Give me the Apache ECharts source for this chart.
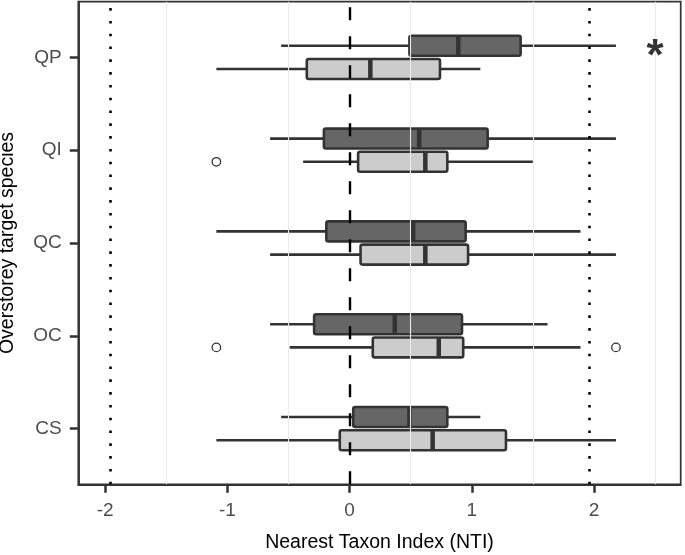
<!DOCTYPE html>
<html>
<head>
<meta charset="utf-8">
<script src="https://cdn.jsdelivr.net/npm/echarts@6/dist/echarts.min.js"></script>
<style>
    html, body { margin: 0; padding: 0; background: #fff; }
    #chart { width: 685px; height: 555px; }
</style>
</head>
<body>
<div id="chart"></div>
<script>
    // categories from bottom to top
    var categories = ['CS', 'OC', 'QC', 'QI', 'QP'];
    // [lower whisker, Q1, median, Q3, upper whisker] per category
    var darkStats = [
        [-0.56, 0.03, 0.49, 0.80, 1.07],
        [-0.65, -0.29, 0.37, 0.92, 1.62],
        [-1.09, -0.19, 0.52, 0.95, 1.89],
        [-0.65, -0.21, 0.57, 1.13, 2.18],
        [-0.56, 0.49, 0.89, 1.40, 2.18]
    ];
    var lightStats = [
        [-1.09, -0.08, 0.68, 1.28, 2.18],
        [-0.49, 0.19, 0.73, 0.93, 1.89],
        [-0.65, 0.09, 0.62, 0.97, 2.18],
        [-0.38, 0.07, 0.62, 0.80, 1.50],
        [-1.09, -0.35, 0.17, 0.74, 1.07]
    ];
    // [category index, NTI]
    var lightOutliers = [[3, -1.09], [1, -1.09], [1, 2.18]];
    var xTicks = [-2, -1, 0, 1, 2];
    var gridBreaks = [-1.5, -0.5, 0.5, 1.5, 2.5];
    var sesLimits = [-1.96, 1.96];
    var starMark = [[2.5, 4]];

    var DODGE = 0.125;
    var BOX_H = 0.215;

    function boxRenderer(shift, fill) {
        return function (params, api) {
            var yv = api.value(0) + shift;
            var h = api.size([0, BOX_H])[1];
            var lo = api.coord([api.value(1), yv]);
            var q1 = api.coord([api.value(2), yv]);
            var md = api.coord([api.value(3), yv]);
            var q3 = api.coord([api.value(4), yv]);
            var hi = api.coord([api.value(5), yv]);
            var line = { stroke: '#333333', lineWidth: 2.6 };
            return {
                type: 'group',
                children: [
                    { type: 'line', shape: { x1: lo[0], y1: lo[1], x2: q1[0], y2: q1[1] }, style: line },
                    { type: 'line', shape: { x1: q3[0], y1: q3[1], x2: hi[0], y2: hi[1] }, style: line },
                    {
                        type: 'rect',
                        shape: { x: q1[0], y: q1[1] - h / 2, width: q3[0] - q1[0], height: h, r: 2 },
                        style: { fill: fill, stroke: '#333333', lineWidth: 2.6 }
                    },
                    {
                        type: 'line',
                        shape: { x1: md[0], y1: md[1] - h / 2, x2: md[0], y2: md[1] + h / 2 },
                        style: { stroke: '#333333', lineWidth: 4.5 }
                    }
                ]
            };
        };
    }

    function withPos(stats) {
        return stats.map(function (s, i) { return [i + 1].concat(s); });
    }

    var chart = echarts.init(document.getElementById('chart'), null, { renderer: 'canvas' });

    var textFont = '"Liberation Sans", Arial, sans-serif';

    chart.setOption({
        animation: false,
        backgroundColor: '#ffffff',
        textStyle: { fontFamily: textFont },
        grid: {
            left: 78.3, right: 4.3, top: 1.7, bottom: 70.7,
            show: true, borderColor: '#333333', borderWidth: 1.7,
            containLabel: false, outerBoundsMode: 'none'
        },
        xAxis: {
            type: 'value',
            min: -2.22,
            max: 2.71,
            name: 'Nearest Taxon Index (NTI)',
            nameLocation: 'middle',
            nameGap: 48,
            nameTextStyle: { color: '#000000', fontSize: 19.5, fontFamily: textFont },
            axisLine: { show: true, onZero: false, lineStyle: { color: '#333333', width: 1.9 } },
            axisTick: { show: true, inside: false, length: 8.5, customValues: xTicks, lineStyle: { color: '#333333', width: 2.5 } },
            axisLabel: {
                customValues: xTicks,
                margin: 17,
                color: '#4d4d4d',
                fontSize: 19,
                fontFamily: textFont,
                formatter: function (v) { return String(v); }
            },
            splitLine: { show: false }
        },
        yAxis: {
            type: 'value',
            min: 0.4,
            max: 5.6,
            name: 'Overstorey target species',
            nameLocation: 'middle',
            nameGap: 61,
            nameTextStyle: { color: '#000000', fontSize: 19.5, fontFamily: textFont },
            axisLine: { show: true, onZero: false, lineStyle: { color: '#333333', width: 1.9 } },
            axisTick: { show: true, inside: false, length: 8.5, customValues: [1, 2, 3, 4, 5], lineStyle: { color: '#333333', width: 2.5 } },
            axisLabel: {
                customValues: [1, 2, 3, 4, 5],
                margin: 16.6,
                color: '#4d4d4d',
                fontSize: 19,
                fontFamily: textFont,
                formatter: function (v) { return categories[Math.round(v) - 1]; }
            },
            splitLine: { show: false }
        },
        series: [
            {
                // light grid lines and reference lines
                type: 'line',
                data: [],
                silent: true,
                z: 1,
                markLine: {
                    silent: true,
                    symbol: ['none', 'none'],
                    label: { show: false },
                    animation: false,
                    data: gridBreaks.map(function (v) {
                        return { xAxis: v, lineStyle: { color: '#ebebeb', width: 1.1, type: 'solid' } };
                    }).concat(sesLimits.map(function (v) {
                        return { xAxis: v, lineStyle: { color: '#000000', width: 2.6, type: [2.6, 10.2] } };
                    })).concat([
                        { xAxis: 0, lineStyle: { color: '#000000', width: 2.4, type: [13, 16] } }
                    ])
                }
            },
            {
                type: 'custom',
                name: 'dark',
                z: 3,
                renderItem: boxRenderer(DODGE, '#666666'),
                encode: { x: [1, 2, 3, 4, 5], y: 0 },
                data: withPos(darkStats)
            },
            {
                type: 'custom',
                name: 'light',
                z: 3,
                renderItem: boxRenderer(-DODGE, '#cccccc'),
                encode: { x: [1, 2, 3, 4, 5], y: 0 },
                data: withPos(lightStats)
            },
            {
                type: 'scatter',
                z: 4,
                symbol: 'circle',
                symbolSize: 8.5,
                itemStyle: { color: '#ffffff', borderColor: '#333333', borderWidth: 1.3, opacity: 1 },
                data: lightOutliers.map(function (o) { return [o[1], o[0] + 1 - DODGE]; })
            },
            {
                type: 'scatter',
                z: 5,
                symbolSize: 0,
                silent: true,
                label: {
                    show: true,
                    position: 'inside',
                    formatter: '*',
                    color: '#000000',
                    fontSize: 44,
                    fontWeight: 'bold',
                    fontFamily: textFont
                },
                data: starMark.map(function (s) { return [s[0], s[1] + 1]; })
            }
        ]
    });
</script>
</body>
</html>
